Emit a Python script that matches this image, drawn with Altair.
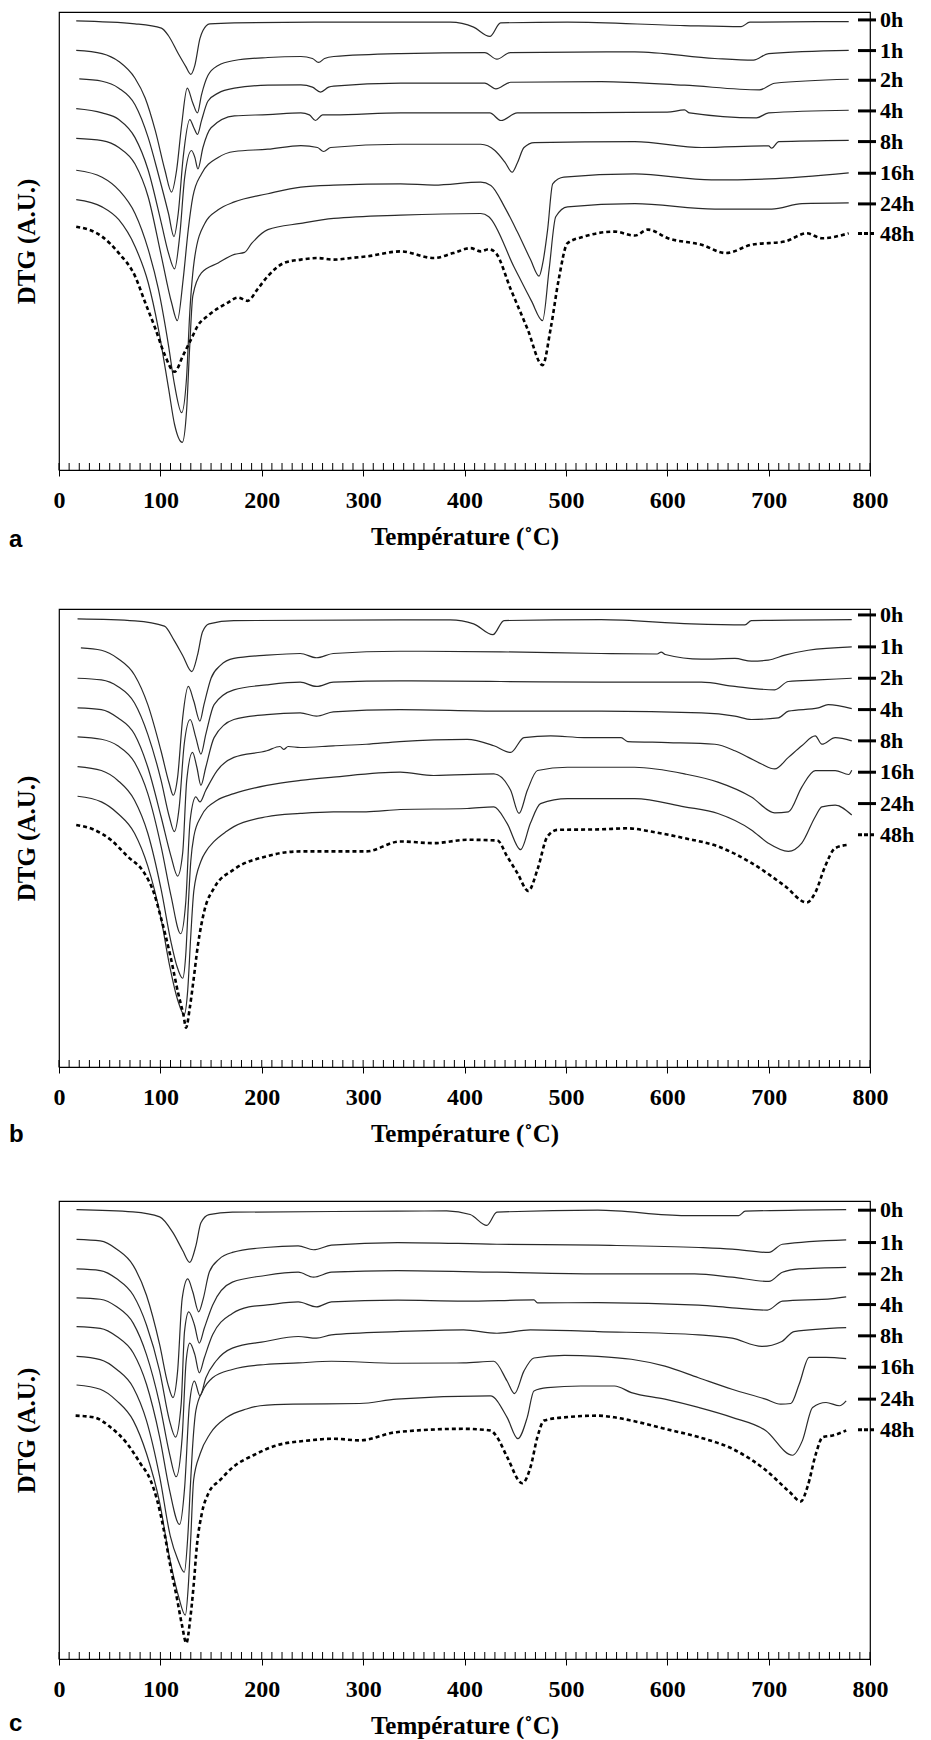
import altair as alt
import pandas as pd

SERIES = ["0h", "1h", "2h", "4h", "8h", "16h", "24h", "48h"]

# ---------------- Panel a (temperature °C, DTG depth A.U.) ----------------
a_0h_t = [17, 75, 101, 108, 117.6, 125, 130, 134, 139, 142, 148.7, 173, 271, 337, 386, 409, 425, 435.6, 501.6, 617, 673, 681.5, 779]
a_0h_y = [9, 12, 16.3, 24, 42, 55, 63, 54, 27, 18.7, 12, 11, 10.3, 10.3, 10.3, 15.3, 24.7, 11, 10.3, 13.7, 14.7, 10.3, 9.7]
a_1h_t = [17, 42.5, 59, 75, 85, 95, 104.5, 111, 116, 121, 126.5, 132, 136.6, 140.5, 147, 157, 173, 206, 238.6, 250, 256, 262, 271, 337, 420, 432, 445, 568, 647, 685, 700, 779]
a_1h_y = [38.7, 42, 50, 67, 87, 120, 160, 182, 160, 114, 77, 92, 102, 84, 64, 54, 49, 46, 45, 47, 51, 47, 45, 42, 41, 47.7, 41, 40.3, 47, 48.7, 42, 38.7]
a_2h_t = [20, 42.5, 59, 75, 88, 98, 108, 113.4, 117.6, 122.5, 129, 133, 136.6, 140.5, 147, 157, 173, 206, 238.6, 250, 258, 266, 271, 337, 420, 431, 445.5, 535, 617, 691, 706, 779]
a_2h_y = [67.7, 70, 77, 93.7, 127, 164, 203.7, 227, 203.7, 147, 108.7, 117, 123.7, 110, 90, 82, 77, 74, 73.7, 76, 81, 76, 75, 72, 72, 77.7, 71, 70.3, 74, 78.7, 72, 68]
a_4h_t = [17, 42.5, 59, 75, 88, 101, 108, 114, 119, 124, 130.7, 134, 137, 142, 150, 173, 206, 238.6, 247, 253, 260, 271, 337, 425, 436, 452, 600, 617, 622, 688, 700, 779]
a_4h_y = [97.7, 102, 108.7, 127, 160, 213.7, 243.7, 259.7, 227, 167, 140, 147, 158.7, 137, 117, 105, 103.7, 102, 104, 109.7, 104, 104, 102, 102, 109.7, 102, 101.3, 99, 102, 107, 102, 99.3]
a_8h_t = [17, 42.5, 59, 75, 88, 101, 111, 116.7, 122.5, 127.5, 132, 140.5, 157, 173, 206, 238.6, 255, 261, 268, 337, 416, 430, 440, 447, 452, 458.7, 469, 568, 634, 700, 703, 710, 779]
a_8h_y = [127.7, 130, 137, 153.7, 187, 247, 293.7, 312, 270, 220, 187, 163.7, 147, 141, 138.7, 135, 137, 141, 137, 133.7, 133.7, 140, 152, 162, 153, 137, 132, 131, 137, 135.3, 137.7, 131, 129.7]
a_16h_t = [17, 42.5, 59, 75, 88, 98, 108, 114, 121, 125.8, 129, 134, 143.8, 157, 173, 206, 238.6, 271, 337, 370, 416, 426, 440, 452, 465, 473.6, 477, 482, 487, 498, 568, 643.6, 700, 779]
a_16h_y = [160, 167, 180, 203.7, 240, 280, 337, 377, 405, 370, 303.7, 247, 213.7, 200, 192, 183.7, 177, 175, 173.7, 175, 172, 175.3, 198, 222, 250, 267, 255, 220, 173.7, 167, 163.7, 169.7, 168.7, 162.7]
a_24h_t = [17, 42.5, 59, 75, 88, 98, 108, 114, 121.6, 125.8, 129, 132, 140.5, 157, 173, 183, 190, 206, 238.6, 271, 337, 416, 424, 449, 466, 477, 483.5, 490, 501.6, 568, 647, 703, 733, 779]
a_24h_y = [189.7, 197, 210, 237, 273.7, 320, 380, 417, 435, 403.7, 337, 287, 263.7, 253.7, 245, 243, 234, 220, 213.7, 208.7, 205.3, 203.7, 207, 258, 292, 312, 260, 207, 197, 193.7, 199.3, 199.3, 193.7, 193]
a_48h_t = [17, 42.5, 59, 75, 85, 95, 104.5, 114, 122.5, 130.7, 137, 147, 166.7, 176.5, 186, 196, 206, 222, 238.6, 255, 271, 287.6, 304, 337, 369.6, 389, 406, 416, 424, 431, 445.5, 462, 477, 485, 493, 501.6, 518, 548, 568, 581, 600.7, 633.7, 658, 683, 716, 737.6, 752.5, 779]
a_48h_y = [217, 227, 243.7, 267, 293.7, 320, 347, 363.7, 347, 330, 317, 307, 293.7, 288.7, 292, 280, 267, 253.7, 250.3, 248.7, 250.3, 248.7, 247, 242, 248.7, 243.7, 238.7, 242, 239.7, 243.7, 280, 320, 357, 320, 270, 233.7, 227, 222, 226, 220, 228.7, 235.3, 243.7, 235.3, 232, 223.7, 228.7, 223.7]
a_label_levels = [8, 39, 69, 100, 131, 163, 194, 224]

# ---------------- Panel b ----------------
b_0h_t = [18.3, 75, 104, 113.7, 122, 131, 136.6, 141.5, 148, 172.5, 336, 386, 409, 428, 439, 534.7, 623.8, 676.6, 683, 782]
b_0h_y = [10, 12, 17.3, 32, 47, 63.3, 46.7, 23.3, 15, 11.7, 11, 11, 15, 26, 11.7, 10.7, 15, 16, 11.7, 10.7]
b_1h_t = [21.6, 41.8, 58, 74.5, 87.6, 100.6, 108.8, 112.7, 117, 122, 127.5, 133, 139, 143, 150, 159.5, 172.5, 205, 238, 254, 270.6, 336, 435.6, 534.7, 590, 594, 598, 633.7, 666.7, 683, 699.7, 716, 739, 782]
b_1h_y = [39.3, 41.7, 50, 66.7, 96.7, 143.3, 176.7, 188.3, 170, 110, 78.3, 93.3, 113.3, 96.7, 70, 56.7, 50, 46.7, 45, 49.3, 45, 42.7, 43.3, 45, 45.5, 43.5, 46, 50.7, 50, 52.7, 51.7, 46.7, 41.7, 38.3]
b_2h_t = [18.3, 41.8, 58, 74.5, 87.6, 100.7, 108.8, 113.7, 118.6, 123.5, 129.4, 135, 140, 144.8, 153, 172.5, 205, 238, 254, 270.6, 336, 435.6, 534.7, 633.7, 666.7, 706, 719.5, 749, 782]
b_2h_y = [70, 71.7, 78.3, 95, 126.7, 173.3, 210, 225, 200, 136.7, 111.7, 130, 146.7, 126.7, 96.7, 81.7, 76.7, 74, 78.3, 74, 72.7, 73.3, 74, 74, 78.3, 81.7, 73.3, 71.7, 70]
b_4h_t = [18.3, 41.8, 58, 74.5, 87.6, 100.7, 110.5, 117, 122, 126, 131.7, 136, 140, 144.8, 153, 172.5, 205, 238, 254, 270.6, 336, 435.6, 534.7, 633.7, 666.7, 683, 709.6, 719.5, 749, 758.7, 782]
b_4h_y = [100, 101.7, 110, 126.7, 160, 210, 250, 270, 246.7, 173.3, 145, 160, 178.3, 160, 130, 111.7, 106.7, 105, 108.3, 104, 101.7, 103.3, 103.3, 105, 108.3, 111.7, 110, 103.3, 100, 96.7, 100.7]
b_8h_t = [18.3, 41.8, 58, 74.5, 87.6, 100.7, 110.5, 120, 125, 129.4, 135, 139, 144.8, 156, 172.5, 205, 218, 221.6, 226, 238, 270.6, 303, 336, 402.6, 429, 445.5, 458.7, 485, 518, 554.5, 561, 600.7, 647, 666.7, 680, 693, 706, 719.5, 732.7, 746, 752.5, 765.7, 782]
b_8h_y = [129.3, 131.7, 138.3, 155, 186.7, 240, 290, 328.3, 296.7, 213.3, 190, 195, 183.3, 163.3, 150, 143.3, 139, 142, 139, 140, 138.3, 136.7, 134, 131.7, 138.3, 145, 130, 128.3, 130, 130, 134, 135, 136.7, 143.3, 150, 156.7, 161.7, 150, 138.3, 128.3, 136.7, 130, 133.3]
b_16h_t = [18.3, 41.8, 58, 74.5, 87.6, 100.7, 110.5, 116, 122, 125, 127.5, 130, 133, 140, 156, 172.5, 205, 238, 270.6, 336.6, 369.6, 429, 445.5, 453.8, 462, 472, 501.6, 567.7, 617, 650, 683, 706, 719.5, 732.7, 746, 765.7, 779, 782]
b_16h_y = [159.3, 163.3, 173.3, 193.3, 226.7, 283.3, 336.7, 360, 373.3, 350, 300, 255, 230, 210, 193.3, 186.7, 178.3, 173.3, 170, 165, 168.3, 166.7, 183.3, 206.7, 183.3, 163.3, 160, 160, 166.7, 175, 190, 206, 205, 180, 163.3, 163.3, 167.3, 163]
b_24h_t = [18.3, 41.8, 58, 74.5, 87.6, 100.7, 109, 117, 123.5, 127, 130, 133, 140, 145, 153, 165, 172.5, 205, 238, 270.6, 303, 336.6, 402.6, 429, 442, 455.4, 465, 475, 501.6, 567.7, 617, 650, 683, 699.7, 719.5, 732.7, 746, 752.5, 765.7, 782]
b_24h_y = [189.3, 195, 206.7, 226.7, 260, 313.3, 360, 395, 410, 385, 330, 285, 255, 245, 235, 225, 220, 210, 206.7, 205, 205, 202.7, 201.7, 200, 216.7, 243.3, 216.7, 196.7, 191.7, 191.7, 200, 206.7, 223.3, 236.7, 245, 236.7, 210, 200, 198.3, 208.3]
b_48h_t = [17, 35, 51, 67.5, 84, 93.5, 100, 109.7, 117.9, 122.7, 125.3, 129, 132.5, 137, 143.8, 153, 172.5, 205, 238, 270.6, 303, 336.6, 369.6, 402.6, 432.4, 442, 452, 463, 472, 481.8, 491.7, 534.7, 561, 584, 617, 650, 683, 716, 737.6, 746, 755.8, 765.7, 779]
b_48h_y = [218.3, 223.3, 233.3, 250, 266.7, 286.7, 310, 350, 390, 410, 423.3, 403.3, 376.7, 340, 303.3, 282, 263.3, 250, 245, 245, 245, 235, 236.7, 233.3, 234, 250, 266.7, 285, 263.3, 230, 223.3, 222.7, 221.7, 225, 231.7, 240, 256.7, 280, 296.7, 286.7, 260, 241.7, 238.3]
b_label_levels = [6, 38.3, 70, 101.7, 133.3, 165, 196.7, 228.3]

# ---------------- Panel c ----------------
c_0h_t = [17.3, 73, 99.3, 112.4, 122, 129, 135, 140, 148, 171, 334, 382.5, 405.6, 422, 432, 531.5, 617.5, 670.5, 677, 776.5]
c_0h_y = [8.7, 11, 16, 32, 50, 62, 45.3, 22, 13.7, 11.3, 10.3, 10, 13.7, 24.7, 11.3, 9.3, 14.7, 14.7, 10.3, 8.7]
c_1h_t = [17.3, 40.7, 57, 73.3, 86.3, 99.3, 107.5, 112.4, 117, 121.5, 127, 132, 137.8, 142.3, 148.2, 158, 171, 203.6, 236, 251, 268.7, 334, 432, 531.5, 631, 664, 700.3, 713.6, 776.5]
c_1h_y = [38.7, 40.3, 48.7, 65.3, 95.3, 145.3, 185.3, 198.7, 172, 98.7, 78.7, 92, 112, 98.7, 72, 58.7, 52, 47, 45.3, 49.3, 44.7, 42, 43.7, 44.7, 47, 48.7, 52, 43.7, 39.3]
c_2h_t = [17.3, 40.7, 57, 73.3, 86.3, 99.3, 109, 114.9, 120.5, 123.8, 128, 133.6, 138.4, 143.3, 151.5, 171, 203.6, 236, 251, 268.7, 334, 432, 531.5, 627, 664, 700.3, 713.6, 730, 776.5]
c_2h_y = [68.7, 70.3, 78.7, 95.3, 125.3, 172, 222, 238.7, 205.3, 132, 112, 125.3, 143.7, 128.7, 105.3, 82, 75.3, 72, 77, 72, 70.3, 72, 73.7, 73.7, 77, 81.3, 72, 68.7, 67]
c_4h_t = [17.3, 40.7, 57, 73.3, 86.3, 99.3, 109, 115.6, 121.5, 125.4, 129, 134, 138.4, 143.3, 151.5, 171, 187.3, 203.6, 236, 254, 268.7, 334, 399, 468.5, 472, 531.5, 631, 664, 698.7, 713.6, 763, 776.5]
c_4h_y = [98, 99.3, 107, 123.7, 155.3, 205.3, 255.3, 278.7, 238.7, 162, 143.7, 155.3, 173.7, 158.7, 135.3, 113.7, 107, 105.3, 102, 107, 102, 100.3, 101.3, 100, 103, 102.7, 105.3, 108, 110.3, 101.3, 98.7, 97]
c_8h_t = [17.3, 40.7, 57, 73.3, 86.3, 99.3, 109, 118.9, 124, 128.7, 133.6, 139, 144.9, 154.7, 171, 203.6, 236, 254, 268.7, 334, 399, 432, 465, 531.5, 631, 664, 693.4, 713, 725, 776.5]
c_8h_y = [127, 128.7, 137, 153.7, 185.3, 238.7, 292, 327, 288.7, 205.3, 182, 197, 178.7, 162, 148.7, 142, 137, 138.7, 135.3, 132, 130.3, 133.7, 130.3, 132, 135.3, 138.7, 147, 142, 132, 128]
c_16h_t = [17.3, 40.7, 57, 73.3, 86.3, 99.3, 109.8, 117, 123.6, 127, 129.5, 132, 135, 141.7, 151.5, 171, 203.6, 236, 268.7, 334, 399, 428.8, 442, 449.3, 458.6, 468.5, 498.3, 531.5, 564.6, 597.7, 630.8, 663.9, 697, 711.9, 721.9, 730.1, 740, 756.6, 776.5]
c_16h_y = [157, 160.3, 170.3, 188.7, 222, 278.7, 338.7, 362, 375.3, 340, 290, 245, 212, 192, 178.7, 170.3, 165.3, 163.7, 162, 164, 163.7, 162, 182, 194.7, 172, 158.7, 156, 157, 160, 167, 178.7, 190.3, 200.3, 205.3, 204.7, 185.3, 158, 158, 159.3]
c_24h_t = [17.3, 40.7, 57, 73.3, 86.3, 99.3, 108, 118, 124.6, 127.5, 130, 132.8, 139.3, 149, 165.6, 185, 198.4, 231, 296.7, 332.8, 425.5, 442, 452.6, 461.9, 468.5, 481.8, 514.9, 548, 564.6, 597.7, 630.8, 663.9, 697, 723.5, 733.4, 743.4, 756.6, 769.9, 776.5]
c_24h_y = [186, 190.3, 202, 222, 255.3, 305, 355, 400, 418.7, 390, 340, 282, 255.3, 235.3, 218.7, 210.3, 207, 205.3, 204.7, 200.3, 197, 218.7, 240.3, 218.7, 192, 188.7, 187, 187, 193.7, 200.3, 208.7, 218.7, 232, 257, 242, 208.7, 203.7, 207, 202]
c_48h_t = [16.4, 34.4, 50.8, 67.2, 80.3, 90.2, 96.7, 103.3, 109.8, 116.4, 121.3, 125.6, 129.5, 132.8, 136, 141, 147.5, 159, 172, 191.8, 214.8, 247.5, 270.5, 296.7, 332.8, 399, 425.5, 432.1, 442, 457, 465.2, 471.9, 478.5, 498.3, 531.5, 548, 564.6, 597.7, 630.8, 663.9, 697, 720.2, 731.8, 738.4, 746.7, 753.3, 763.2, 776.5]
c_48h_y = [217, 218.7, 228.7, 245.3, 265.3, 282, 302, 332, 368.7, 402, 428.7, 447, 422, 388.7, 348.7, 315.3, 295.3, 282, 268.7, 257, 247, 242, 240.3, 242, 233.7, 230.3, 232, 238.7, 258.7, 285.3, 268.7, 238.7, 222, 218.7, 217, 218.7, 222, 230.3, 238.7, 250.3, 272, 293.7, 303.7, 288.7, 255.3, 238.7, 237, 232]
c_label_levels = [9.3, 42, 73.7, 104.7, 136.3, 168, 200.3, 231.3]

X_TICKS = list(range(0, 801, 100))
X_MINOR = list(range(0, 801, 10))

PANELS = [
    ("a", [(a_0h_t, a_0h_y), (a_1h_t, a_1h_y), (a_2h_t, a_2h_y), (a_4h_t, a_4h_y),
           (a_8h_t, a_8h_y), (a_16h_t, a_16h_y), (a_24h_t, a_24h_y), (a_48h_t, a_48h_y)], a_label_levels, 70),
    ("b", [(b_0h_t, b_0h_y), (b_1h_t, b_1h_y), (b_2h_t, b_2h_y), (b_4h_t, b_4h_y),
           (b_8h_t, b_8h_y), (b_16h_t, b_16h_y), (b_24h_t, b_24h_y), (b_48h_t, b_48h_y)], b_label_levels, 68),
    ("c", [(c_0h_t, c_0h_y), (c_1h_t, c_1h_y), (c_2h_t, c_2h_y), (c_4h_t, c_4h_y),
           (c_8h_t, c_8h_y), (c_16h_t, c_16h_y), (c_24h_t, c_24h_y), (c_48h_t, c_48h_y)], c_label_levels, 65),
]

W = 811
H = 458
SERIF = "Liberation Serif"

xscale = alt.Scale(domain=[0, 800], nice=False, zero=False)
yscale = alt.Scale(domain=[0, 463], nice=False, zero=False, reverse=True)

xaxis = alt.Axis(values=X_TICKS, format="d", title="Température (˚C)",
                 tickSize=6, tickColor="black", domainColor="black",
                 labelFont=SERIF, labelFontWeight="bold", labelFontSize=24,
                 labelColor="black", labelPadding=12, labelFlush=False,
                 titleFont=SERIF, titleFontWeight="bold", titleFontSize=25,
                 titleColor="black", titlePadding=12, grid=False)
yaxis = alt.Axis(title="DTG (A.U.)", labels=False, ticks=False, domain=False,
                 grid=False, titleFont=SERIF, titleFontWeight="bold",
                 titleFontSize=25, titleColor="black", titlePadding=20)


def make_panel(letter, curves, levels, tag_offset):
    rows = []
    for name, (ts, ys) in zip(SERIES, curves):
        for i, (t, y) in enumerate(zip(ts, ys)):
            rows.append({"series": name, "T": t, "dtg": y, "i": i})
    df = pd.DataFrame(rows)
    lab = pd.DataFrame({"series": SERIES, "dtg": levels})

    xenc = alt.X("T:Q", scale=xscale, axis=xaxis)
    yenc = alt.Y("dtg:Q", scale=yscale, axis=yaxis)

    solid = alt.Chart(df).transform_filter(alt.datum.series != "48h").mark_line(
        color="#2a2a2a", strokeWidth=1.2, interpolate="monotone"
    ).encode(x=xenc, y=yenc, detail="series:N", order="i:Q")

    dotted = alt.Chart(df).transform_filter(alt.datum.series == "48h").mark_line(
        color="black", strokeWidth=2.6, strokeDash=[4, 3], interpolate="monotone"
    ).encode(x=xenc, y=yenc, order="i:Q")

    minor = alt.Chart(pd.DataFrame({"T": X_MINOR})).mark_rule(color="black", strokeWidth=1).encode(
        x=xenc, y=alt.value(H - 7), y2=alt.value(H))

    key_solid = alt.Chart(lab).transform_filter(alt.datum.series != "48h").mark_rule(
        color="black", strokeWidth=3).encode(
        x=alt.value(W - 12), x2=alt.value(W + 6), y=yenc)
    key_dot = alt.Chart(lab).transform_filter(alt.datum.series == "48h").mark_rule(
        color="black", strokeWidth=3, strokeDash=[4, 2]).encode(
        x=alt.value(W - 12), x2=alt.value(W + 6), y=yenc)

    labels = alt.Chart(lab).mark_text(
        align="left", baseline="middle", font=SERIF, fontWeight="bold", fontSize=22, color="black"
    ).encode(x=alt.value(W + 10), y=yenc, text="series:N")

    tag = alt.Chart(pd.DataFrame({"t": [letter]})).mark_text(
        align="left", baseline="middle", font="Liberation Sans", fontWeight="bold",
        fontSize=24, color="black"
    ).encode(x=alt.value(-50), y=alt.value(H + tag_offset), text="t:N")

    return alt.layer(solid, dotted, minor, key_solid, key_dot, labels, tag).properties(
        width=W, height=H)


panels = [make_panel(l, c, lv, off) for l, c, lv, off in PANELS]

chart = alt.vconcat(*panels, spacing=50).properties(
    padding={"left": 0, "top": 0, "right": 0, "bottom": 0},
    background="white",
).configure_view(stroke="black", strokeWidth=1.2)

chart.save("out.html", embed_options={"renderer": "svg", "actions": False})
